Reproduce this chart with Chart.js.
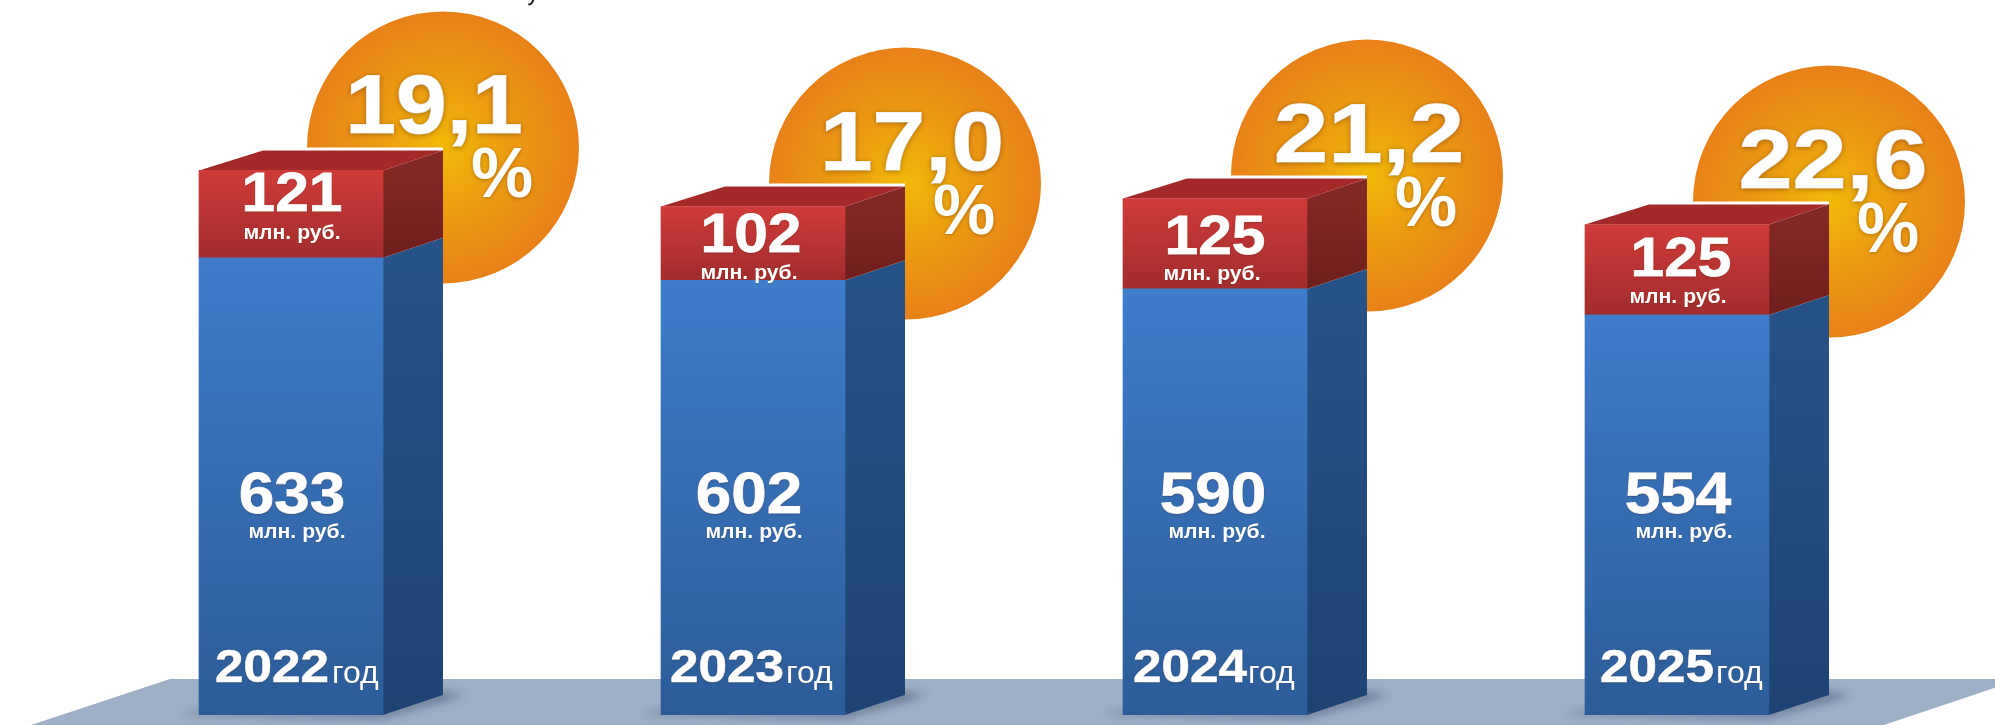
<!DOCTYPE html>
<html>
<head>
<meta charset="utf-8">
<style>
  html,body{margin:0;padding:0;background:#fff;}
  #wrap{width:1995px;height:725px;}
</style>
<script src="https://cdn.jsdelivr.net/npm/chart.js@4"></script>
</head>
<body>
<div id="wrap"><canvas id="chart" width="1995" height="725"></canvas></div>
<script>
/* -------- data -------- */
const years    = ['2022','2023','2024','2025'];
const lower    = [633,602,590,554];      // blue part
const upper    = [121,102,125,125];      // red part
const percents = [19.1,17.0,21.2,22.6];
const unitText = 'млн. руб.';
const yearText = 'год';

/* -------- look -------- */
const FONT = '"Liberation Sans", Arial, sans-serif';
const DX = 60, DY = 20;                  // depth of the fake 3d box
const R  = 136;                          // orange disc radius
// the labels were placed by hand in the original, so each bar has its own nudge
const pctStretch = [1.10,1.14,1.18,1.17];
const pctDx      = [-9,7,2,4];
const redBase    = [41,45,55,51];        // baseline below the bar top
const redUnit    = [69,72,81,78];
const redUnitDx  = [1,-4,-3,1];
const redDx      = [1,-2,0,4];
const blueDx     = [1,-4,-2,1];
const blueUnitDx = [6,1,2,7];
const yearDx     = [-76,-83,-82,-77];
const godDx      = [41,33,33,39];

function vgrad(ctx, y0, y1, c0, c1){
  const g = ctx.createLinearGradient(0,y0,0,y1);
  g.addColorStop(0,c0); g.addColorStop(1,c1);
  return g;
}
function poly(ctx, pts, fill){
  ctx.beginPath();
  pts.forEach((p,i)=> i ? ctx.lineTo(p[0],p[1]) : ctx.moveTo(p[0],p[1]));
  ctx.closePath();
  ctx.fillStyle = fill;
  ctx.fill();
}
function label(ctx, txt, x, y, size, opt={}){
  ctx.save();
  ctx.font = `${opt.weight||'bold'} ${size}px ${FONT}`;
  ctx.textAlign = opt.align || 'center';
  ctx.textBaseline = 'alphabetic';
  ctx.fillStyle = opt.color || '#fff';
  ctx.shadowColor = 'rgba(70,30,0,'+(opt.shadow||0.35)+')';
  ctx.shadowBlur = opt.blur||4;
  ctx.shadowOffsetY = 1;
  ctx.translate(x,y);
  ctx.scale(opt.sx||1,1);
  if(opt.stroke){ ctx.strokeStyle = '#fff'; ctx.lineWidth = opt.stroke; ctx.strokeText(txt,0,0); }
  ctx.fillText(txt,0,0);
  ctx.restore();
}

/* -------- floor, discs, box sides (under the bars) -------- */
const boxBack = {
  id:'boxBack',
  beforeDatasetsDraw(chart){
    const ctx = chart.ctx, base = chart.scales.y.getPixelForValue(0);
    const blue = chart.getDatasetMeta(0).data, red = chart.getDatasetMeta(1).data;

    // floor
    const fy = base-36;
    poly(ctx, [[170,fy],[2021,fy],[1884,725],[31,725]], '#9db0c6');

    years.forEach((y,i)=>{
      const b = blue[i], r = red[i];
      const l = b.x-b.width/2, rt = b.x+b.width/2;
      const top = r.y, split = b.y;
      const cx = rt+DX, cy = top-DY-3;

      // disc without its lower left quarter
      const g = ctx.createRadialGradient(cx,cy,4,cx,cy,R);
      g.addColorStop(0,'#f1b708');
      g.addColorStop(0.45,'#ec9c11');
      g.addColorStop(1,'#e88118');
      ctx.beginPath();
      ctx.moveTo(cx,cy);
      ctx.arc(cx,cy,R,Math.PI/2,Math.PI,true);
      ctx.closePath();
      ctx.fillStyle = g;
      ctx.fill();

      // contact shadow on the floor
      ctx.save();
      ctx.filter = 'blur(5px)';
      poly(ctx, [[l-22,base-1],[rt,base+3],[rt+DX+22,base-DY],[rt+DX,base-DY-3],[rt,base-4],[l,base-4]], 'rgba(45,60,90,.5)');
      ctx.restore();

      // right side
      poly(ctx, [[rt,split],[rt+DX,split-DY],[rt+DX,base-DY],[rt,base]], vgrad(ctx,split,base,'#275288','#1e4373'));
      poly(ctx, [[rt,top],[rt+DX,top-DY],[rt+DX,split-DY],[rt,split]], vgrad(ctx,top,split,'#832825','#6f1f1c'));

      // top
      poly(ctx, [[l,top],[l+DX+4,top-DY],[rt+DX,top-DY],[rt,top]], '#a42a2a');
    });
  }
};

/* -------- texts over the bars -------- */
const boxText = {
  id:'boxText',
  afterDatasetsDraw(chart){
    const ctx = chart.ctx, base = chart.scales.y.getPixelForValue(0);
    const blue = chart.getDatasetMeta(0).data, red = chart.getDatasetMeta(1).data;

    // cut off remnant of the line above the picture
    label(ctx, 'у', 533, 0, 22, {weight:'normal', color:'#111', blur:1, shadow:0});

    years.forEach((y,i)=>{
      const b = blue[i], r = red[i];
      const rt = b.x+b.width/2, cx = rt+DX, cy = r.y-DY-3;

      // percent in the disc
      const pct = percents[i].toFixed(1).replace('.',',');
      label(ctx, pct, cx+pctDx[i], cy-14, 83, {sx:pctStretch[i], blur:5, stroke:1});
      label(ctx, '%', cx+59, cy+50, 70, {blur:4});

      // values, the blue ones sit on one line whatever the bar height
      label(ctx, String(upper[i]), b.x+redDx[i], r.y+redBase[i], 56, {sx:1.08, blur:2, shadow:.2, stroke:.8});
      label(ctx, unitText, b.x+redUnitDx[i], r.y+redUnit[i], 20, {sx:1.06, blur:2, shadow:.2});
      label(ctx, String(lower[i]), b.x+blueDx[i], 513, 58, {sx:1.1, blur:2, shadow:.2, stroke:.8});
      label(ctx, unitText, b.x+blueUnitDx[i], 538, 20, {sx:1.06, blur:2, shadow:.2});

      // year
      label(ctx, y, b.x+yearDx[i], base-33, 47, {align:'left', blur:2, shadow:.2, sx:1.09, stroke:.6});
      label(ctx, yearText, b.x+godDx[i], base-32, 32, {align:'left', weight:'normal', blur:1, shadow:.15});
    });
  }
};

/* -------- chart -------- */
new Chart(document.getElementById('chart'), {
  type:'bar',
  data:{
    labels:years,
    datasets:[
      { label:'blue', data:lower, barThickness:184, borderWidth:0,
        backgroundColor:c=>{
          const a=c.chart.chartArea; if(!a) return '#3b78c6';
          const base=c.chart.scales.y.getPixelForValue(0);
          return vgrad(c.chart.ctx, c.chart.scales.y.getPixelForValue(lower[c.dataIndex]), base, '#3f7ccb', '#2c5c98');
        } },
      { label:'red', data:upper, barThickness:184, borderWidth:0,
        backgroundColor:c=>{
          const a=c.chart.chartArea; if(!a) return '#c73a38';
          const y=c.chart.scales.y, l=lower[c.dataIndex];
          return vgrad(c.chart.ctx, y.getPixelForValue(l+upper[c.dataIndex]), y.getPixelForValue(l), '#cf3b39', '#a12c2c');
        } }
    ]
  },
  options:{
    responsive:false,
    animation:false,
    layout:{padding:{left:60,right:87,top:0,bottom:10}},
    plugins:{legend:{display:false},tooltip:{enabled:false}},
    scales:{
      x:{stacked:true,display:false},
      y:{stacked:true,display:false,min:0,max:990}
    }
  },
  plugins:[boxBack,boxText]
});
</script>
</body>
</html>
